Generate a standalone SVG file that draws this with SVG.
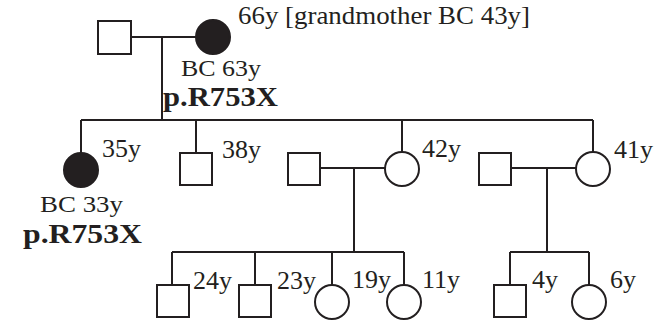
<svg xmlns="http://www.w3.org/2000/svg" width="670" height="322" viewBox="0 0 670 322">
<style>
.sq{fill:#fff;stroke:#231f20;stroke-width:2}
.ci{fill:#fff;stroke:#231f20;stroke-width:2}
.af{fill:#231f20;stroke:#231f20;stroke-width:2}
.ln{fill:none;stroke:#231f20;stroke-width:2}
.t{font-family:"Liberation Serif","Times New Roman",serif;font-size:26px;fill:#231f20}
.s{font-family:"Liberation Serif","Times New Roman",serif;font-size:24px;fill:#231f20}
.b{font-family:"Liberation Serif","Times New Roman",serif;font-size:28px;font-weight:bold;fill:#231f20}
</style>
<rect width="670" height="322" fill="#fff"/>
<g id="connectors">
<path class="ln" d="M131 37H196M162 37V120M81 120H593M81 120V153M196 120V152M402 120V152M593 120V152"/>
<path class="ln" d="M320 168H385M354 168V252M172 252H404M172 252V285M255 252V285M332 252V285M404 252V285"/>
<path class="ln" d="M511 168H576M547 168V252M510 252H589M510 252V285M589 252V285"/>
</g>
<g id="grandfather"><rect class="sq" x="98" y="21" width="33" height="33"/></g>
<g id="grandmother"><circle class="af" cx="213" cy="37" r="17"/>
<text class="t" x="238" y="24" textLength="292" lengthAdjust="spacingAndGlyphs">66y [grandmother BC 43y]</text>
<text class="s" x="181" y="76" textLength="80" lengthAdjust="spacingAndGlyphs">BC 63y</text>
<text class="b" x="163" y="106" textLength="115" lengthAdjust="spacingAndGlyphs">p.R753X</text></g>
<g id="proband"><circle class="af" cx="81" cy="170" r="17"/>
<text class="t" x="102" y="157">35y</text>
<text class="s" x="40" y="212" textLength="83" lengthAdjust="spacingAndGlyphs">BC 33y</text>
<text class="b" x="23" y="243" textLength="119" lengthAdjust="spacingAndGlyphs">p.R753X</text></g>
<g id="son38"><rect class="sq" x="180" y="153" width="32" height="32"/><text class="t" x="222" y="158">38y</text></g>
<g id="spouse1"><rect class="sq" x="288" y="153" width="32" height="32"/></g>
<g id="daughter42"><circle class="ci" cx="402" cy="169" r="17"/><text class="t" x="422" y="157">42y</text></g>
<g id="spouse2"><rect class="sq" x="479" y="153" width="32" height="32"/></g>
<g id="daughter41"><circle class="ci" cx="593" cy="169" r="17"/><text class="t" x="614" y="158">41y</text></g>
<g id="gc24"><rect class="sq" x="157" y="285" width="32" height="32"/><text class="t" x="193" y="289">24y</text></g>
<g id="gc23"><rect class="sq" x="239" y="285" width="32" height="32"/><text class="t" x="277" y="289">23y</text></g>
<g id="gc19"><circle class="ci" cx="332" cy="302" r="17"/><text class="t" x="352" y="288">19y</text></g>
<g id="gc11"><circle class="ci" cx="404" cy="302" r="17"/><text class="t" x="422" y="288">11y</text></g>
<g id="gc4"><rect class="sq" x="494" y="285" width="32" height="32"/><text class="t" x="532" y="288">4y</text></g>
<g id="gc6"><circle class="ci" cx="589" cy="302" r="17"/><text class="t" x="610" y="288">6y</text></g>
</svg>
